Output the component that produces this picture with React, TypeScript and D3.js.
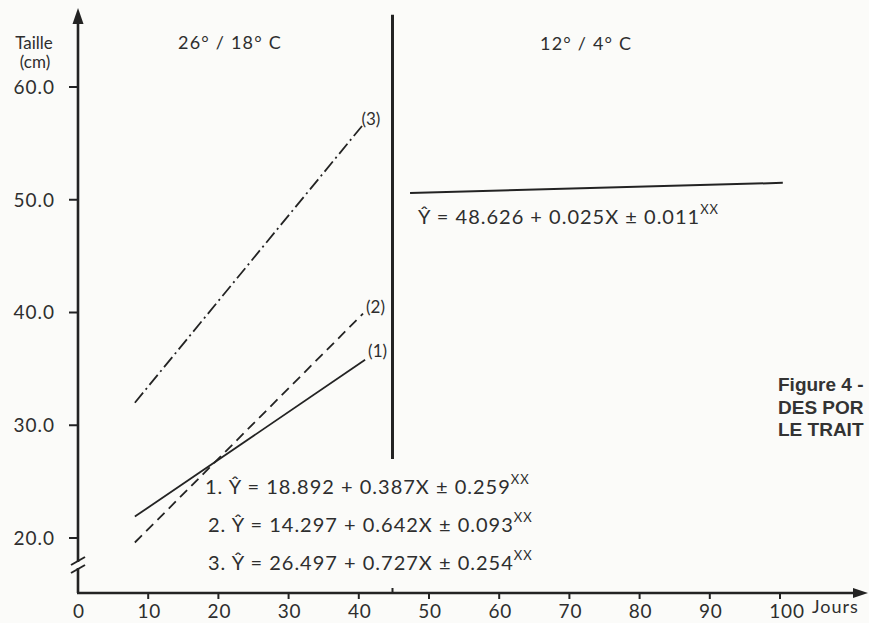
import * as d3 from "d3";

// x axis: days, y axis: size (cm)
const xTicks = [0, 10, 20, 30, 40, 50, 60, 70, 80, 90, 100];
const yTicks = [20, 30, 40, 50, 60];
const yTickLabels = ["20.0", "30.0", "40.0", "50.0", "60.0"];

// regression lines (start / end)
const days1 = [8.1, 40.9];
const size1 = [21.9, 35.8];
const days2 = [8.1, 40.6];
const size2 = [19.6, 39.9];
const days3 = [8.1, 40.8];
const size3 = [32.0, 56.8];
const daysCold = [47.3, 100.4];
const sizeCold = [50.6, 51.5];

// vertical separator between the two temperature regimes
const splitDay = 44.8;
const splitSize = [27.0, 66.4];

const equations = [
  { n: "1.", a: "18.892", b: "0.387X", e: "0.259" },
  { n: "2.", a: "14.297", b: " 0.642X", e: "0.093" },
  { n: "3.", a: "26.497", b: " 0.727X", e: "0.254" },
];

const W = 869;
const H = 623;
const AXIS_Y = 593;
const FONT = "Lato, 'DejaVu Sans', sans-serif";
const INK = "#232323";
const TXT = "#2e2e2e";

const App = () => {
  const xScale = d3.scaleLinear().domain([0, 100]).range([78, 780]);
  const yScale = d3.scaleLinear().domain([20, 60]).range([538, 87]);
  const x0 = xScale(0);

  const lineBuilder = d3
    .line<[number, number]>()
    .x((d) => xScale(d[0]))
    .y((d) => yScale(d[1]));

  const pts = (xs: number[], ys: number[]) =>
    xs.map((x, i) => [x, ys[i]] as [number, number]);

  return (
    <svg
      width={W}
      height={H}
      style={{ position: "absolute", left: 0, top: 0, background: "#fbfbf9" }}
      fontFamily={FONT}
    >
      {/* y axis with break */}
      <line x1={x0} x2={x0} y1={AXIS_Y} y2={18} stroke={INK} strokeWidth={2.6} />
      <path d={`M${x0},8 L${x0 - 5.5},24 L${x0 + 5.5},24 Z`} fill={INK} />
      <rect x={x0 - 4} y={562} width={8} height={6} fill="#fbfbf9" />
      <line x1={x0 - 7} y1={565} x2={x0 + 7} y2={557} stroke={INK} strokeWidth={2} />
      <line x1={x0 - 7} y1={573} x2={x0 + 7} y2={565} stroke={INK} strokeWidth={2} />
      {yTicks.map((t, i) => (
        <g key={t}>
          <line x1={x0 - 9} x2={x0} y1={yScale(t)} y2={yScale(t)} stroke={INK} strokeWidth={2} />
          <text
            x={55}
            y={yScale(t)}
            dy="0.36em"
            textAnchor="end"
            fontSize={19}
            letterSpacing={1}
            fill={TXT}
          >
            {yTickLabels[i]}
          </text>
        </g>
      ))}
      <text x={34} y={49} textAnchor="middle" fontSize={17} fill={TXT}>
        Taille
      </text>
      <text x={35} y={68} textAnchor="middle" fontSize={17} fill={TXT}>
        (cm)
      </text>

      {/* x axis */}
      <line x1={x0 - 1} x2={858} y1={AXIS_Y} y2={AXIS_Y} stroke={INK} strokeWidth={2.6} />
      <path d={`M868,${AXIS_Y} L853,${AXIS_Y - 5} L853,${AXIS_Y + 5} Z`} fill={INK} />
      {xTicks.map((t) => (
        <g key={t}>
          {t > 0 && (
            <line
              x1={xScale(t)}
              x2={xScale(t)}
              y1={AXIS_Y}
              y2={AXIS_Y + 6}
              stroke={INK}
              strokeWidth={2}
            />
          )}
          <text
            x={xScale(t) + (t === 100 ? 7 : 1)}
            y={AXIS_Y + 18}
            dy="0.36em"
            textAnchor="middle"
            fontSize={19}
            letterSpacing={0.8}
            fill={TXT}
          >
            {t}
          </text>
        </g>
      ))}
      <line
        x1={xScale(splitDay)}
        x2={xScale(splitDay)}
        y1={AXIS_Y}
        y2={AXIS_Y - 5}
        stroke={INK}
        strokeWidth={2}
      />
      <text x={812} y={AXIS_Y + 14} dy="0.36em" fontSize={18} letterSpacing={1} fill={TXT}>
        Jours
      </text>

      {/* regime titles */}
      <text x={178} y={49} fontSize={18} letterSpacing={1.2} fill={TXT}>
        26° / 18° C
      </text>
      <text x={540} y={50} fontSize={18} letterSpacing={1.2} fill={TXT}>
        12° / 4° C
      </text>

      {/* separator */}
      <line
        x1={xScale(splitDay)}
        x2={xScale(splitDay)}
        y1={yScale(splitSize[0])}
        y2={yScale(splitSize[1])}
        stroke={INK}
        strokeWidth={3}
      />

      {/* regression lines */}
      <path d={lineBuilder(pts(days1, size1)) || ""} fill="none" stroke={INK} strokeWidth={1.8} />
      <path
        d={lineBuilder(pts(days2, size2)) || ""}
        fill="none"
        stroke={INK}
        strokeWidth={1.8}
        strokeDasharray="10,6"
      />
      <path
        d={lineBuilder(pts(days3, size3)) || ""}
        fill="none"
        stroke={INK}
        strokeWidth={1.8}
        strokeDasharray="13,4,2,4"
      />
      <path
        d={lineBuilder(pts(daysCold, sizeCold)) || ""}
        fill="none"
        stroke={INK}
        strokeWidth={2}
      />

      {/* line labels */}
      <text x={xScale(days1[1]) + 3} y={yScale(size1[1]) - 3} fontSize={17} fill={TXT}>
        (1)
      </text>
      <text x={xScale(days2[1]) + 3} y={yScale(size2[1]) - 1} fontSize={17} fill={TXT}>
        (2)
      </text>
      <text x={xScale(days3[1]) - 3} y={yScale(size3[1]) + 2} fontSize={17} fill={TXT}>
        (3)
      </text>

      {/* equations */}
      {equations.map((eq, i) => (
        <text
          key={eq.n}
          x={i === 0 ? 205 : 208}
          y={487 + i * 38}
          dy="0.36em"
          fontSize={20}
          letterSpacing={1}
          fill={TXT}
        >
          {`${eq.n}  Ŷ = ${eq.a} + ${eq.b} ± ${eq.e}`}
          <tspan dy={-10} fontSize={13}>
            XX
          </tspan>
        </text>
      ))}
      <text x={418} y={217} dy="0.36em" fontSize={20} letterSpacing={1} fill={TXT}>
        {"Ŷ = 48.626 + 0.025X ± 0.011"}
        <tspan dy={-10} fontSize={13}>
          XX
        </tspan>
      </text>

      {/* caption (cut by the page edge) */}
      <g fontFamily="'Liberation Sans', Arial, sans-serif" fontWeight="bold" fontSize={19} fill="#333">
        <text x={778} y={391}>Figure 4  -</text>
        <text x={778} y={414}>DES POR</text>
        <text x={778} y={436}>LE TRAIT</text>
      </g>
    </svg>
  );
};

export default App;
